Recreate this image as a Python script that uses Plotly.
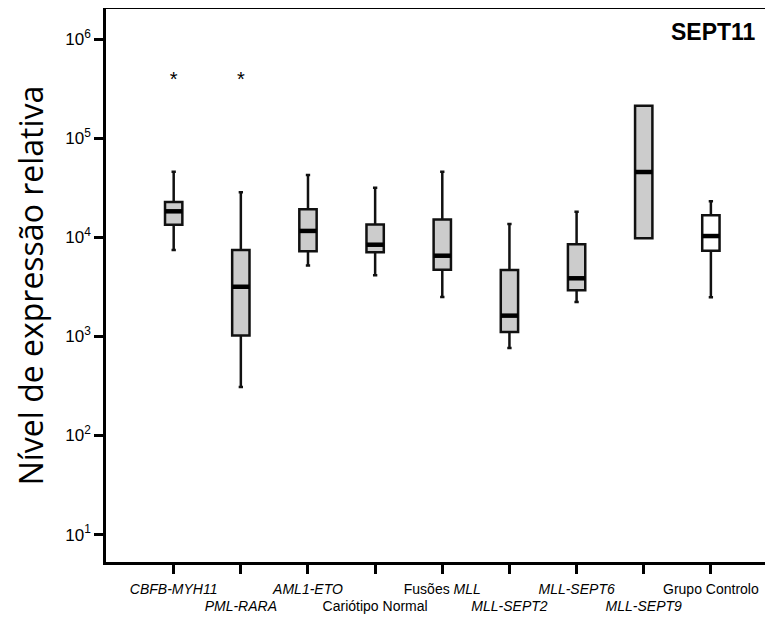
import plotly.graph_objects as go

categories = ["CBFB-MYH11", "PML-RARA", "AML1-ETO", "Cariótipo Normal", "Fusões MLL",
              "MLL-SEPT2", "MLL-SEPT6", "MLL-SEPT9", "Grupo Controlo"]
tick_labels = ["<i>CBFB-MYH11</i>", "<i>PML-RARA</i>", "<i>AML1-ETO</i>",
               "Cariótipo Normal", "Fusões <i>MLL</i>", "<i>MLL-SEPT2</i>",
               "<i>MLL-SEPT6</i>", "<i>MLL-SEPT9</i>", "Grupo Controlo"]
lower_fence = [7450, 309, 5200, 4140, 2500, 764, 2220, 9770, 2480]
q1 = [13400, 1020, 7230, 7060, 4710, 1110, 2920, 9770, 7330]
median = [18300, 3170, 11600, 8420, 6520, 1620, 3860, 45600, 10300]
q3 = [22700, 7450, 19200, 13500, 15100, 4680, 8500, 213000, 16700]
upper_fence = [45900, 28500, 42600, 31600, 45900, 13600, 18100, 213000, 23100]
fill_colors = ["#cccccc"] * 8 + ["#ffffff"]
star_categories = [0, 1]
star_level = 3.8e5
y_tick_vals = [10, 100, 1000, 10000, 100000, 1000000]
y_tick_text = ["10<sup>1</sup>", "10<sup>2</sup>", "10<sup>3</sup>", "10<sup>4</sup>",
               "10<sup>5</sup>", "10<sup>6</sup>"]

BOX_W = 0.258
X_RANGE = [-1.008, 8.925]

fig = go.Figure()
for i, name in enumerate(categories):
    fig.add_trace(go.Box(
        x=[i], q1=[q1[i]], median=[median[i]], q3=[q3[i]],
        lowerfence=[lower_fence[i]], upperfence=[upper_fence[i]],
        name=name, width=BOX_W, whiskerwidth=0.25,
        fillcolor=fill_colors[i], line=dict(color="#111111", width=2.5),
        boxpoints=False, showlegend=False, hoverinfo="skip",
    ))

# thick median bars
mx, my = [], []
for i, m in enumerate(median):
    mx += [i - BOX_W / 2, i + BOX_W / 2, None]
    my += [m, m, None]
fig.add_trace(go.Scatter(x=mx, y=my, mode="lines", line=dict(color="black", width=4.5),
                         showlegend=False, hoverinfo="skip"))

fig.add_trace(go.Scatter(x=star_categories, y=[star_level] * len(star_categories),
                         mode="text", text=["*"] * len(star_categories),
                         textposition="middle center",
                         textfont=dict(size=20, color="black", family="Liberation Sans"),
                         showlegend=False, hoverinfo="skip"))

# invisible trace so the second (staggered label) axis is present
fig.add_trace(go.Scatter(x=[0], y=[10], xaxis="x2", mode="markers", opacity=0,
                         showlegend=False, hoverinfo="skip"))

fig.add_annotation(text="<b>SEPT11</b>", xref="paper", yref="paper", x=0.978, y=0.958,
                   xanchor="right", yanchor="middle", showarrow=False,
                   font=dict(size=23, color="black", family="Liberation Sans"))

idx = list(range(len(categories)))
odd_idx = [i for i in idx if i % 2 == 1]

fig.update_layout(
    width=765, height=611,
    margin=dict(l=98, r=0, t=1, b=57),
    paper_bgcolor="white", plot_bgcolor="white",
    boxmode="overlay",
    xaxis=dict(range=X_RANGE, tickvals=idx,
               ticktext=[tick_labels[i] if i % 2 == 0 else "" for i in idx],
               tickangle=0, automargin=False, ticklabelstandoff=3,
               showgrid=False, zeroline=False, showline=True, linecolor="black", linewidth=2.5,
               mirror=True, ticks="outside", ticklen=9, tickwidth=2.5, tickcolor="black",
               tickfont=dict(size=14, color="black", family="Liberation Sans")),
    xaxis2=dict(range=X_RANGE, overlaying="x", anchor="y", side="bottom",
                tickvals=odd_idx, ticktext=[tick_labels[i] for i in odd_idx],
                tickangle=0, automargin=False, ticklabelstandoff=22,
                showgrid=False, zeroline=False, showline=False,
                ticks="outside", ticklen=9, tickwidth=1, tickcolor="rgba(0,0,0,0)",
                tickfont=dict(size=14, color="black", family="Liberation Sans")),
    yaxis=dict(type="log", range=[0.7235, 6.304], tickvals=y_tick_vals, ticktext=y_tick_text,
               automargin=False,
               showgrid=False, zeroline=False, showline=True, linecolor="black", linewidth=2.5,
               ticks="outside", ticklen=9, tickwidth=2.5, tickcolor="black",
               tickfont=dict(size=17, color="black", family="Liberation Sans"),
               title=dict(text="Nível de expressão relativa", standoff=13,
                          font=dict(size=32, color="black", family="Open Sans"))),
)

fig.write_html("out.html")
